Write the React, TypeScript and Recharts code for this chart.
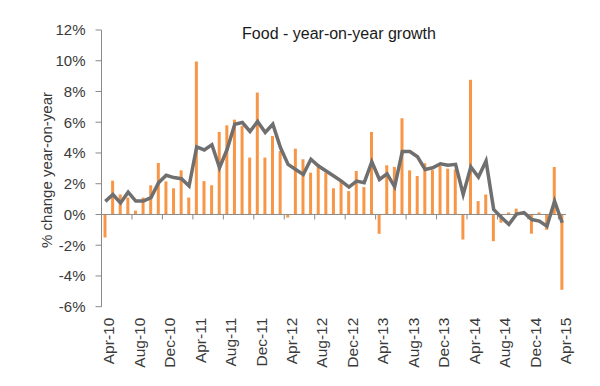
import {
  ComposedChart, Bar, Line, XAxis, YAxis, ReferenceLine, Label,
} from 'recharts';

// monthly categories, Apr-10 .. Apr-15
const months = [
  'Apr-10', 'May-10', 'Jun-10', 'Jul-10', 'Aug-10', 'Sep-10', 'Oct-10', 'Nov-10', 'Dec-10',
  'Jan-11', 'Feb-11', 'Mar-11', 'Apr-11', 'May-11', 'Jun-11', 'Jul-11', 'Aug-11', 'Sep-11',
  'Oct-11', 'Nov-11', 'Dec-11', 'Jan-12', 'Feb-12', 'Mar-12', 'Apr-12', 'May-12', 'Jun-12',
  'Jul-12', 'Aug-12', 'Sep-12', 'Oct-12', 'Nov-12', 'Dec-12', 'Jan-13', 'Feb-13', 'Mar-13',
  'Apr-13', 'May-13', 'Jun-13', 'Jul-13', 'Aug-13', 'Sep-13', 'Oct-13', 'Nov-13', 'Dec-13',
  'Jan-14', 'Feb-14', 'Mar-14', 'Apr-14', 'May-14', 'Jun-14', 'Jul-14', 'Aug-14', 'Sep-14',
  'Oct-14', 'Nov-14', 'Dec-14', 'Jan-15', 'Feb-15', 'Mar-15', 'Apr-15',
];

// orange bars
const monthly = [
  -1.5, 2.2, 1.3, 1.1, 0.25, 1.1, 1.9, 3.35, 2.15,
  1.7, 2.87, 1.1, 9.95, 2.17, 1.9, 5.37, 5.8, 6.17,
  5.76, 3.7, 7.93, 3.7, 5.1, 4.13, -0.2, 4.28, 3.59,
  2.72, 3.26, 2.72, 1.7, 2.17, 1.52, 2.83, 1.78, 5.37,
  -1.26, 3.2, 3.09, 6.26, 2.87, 2.5, 3.33, 2.89, 3.15,
  2.98, 2.93, -1.63, 8.76, 0.87, 1.3, -1.74, -0.54, 0.13,
  0.38, 0.15, -1.25, 0.13, -1.0, 3.09, -4.9,
];

// grey line
const yoy = [
  0.85, 1.3, 0.75, 1.45, 0.87, 0.87, 1.1, 2.07, 2.55,
  2.4, 2.33, 1.85, 4.4, 4.2, 4.54, 3.04, 4.24, 5.87,
  5.98, 5.4, 6.05, 5.33, 5.87, 4.35, 3.26, 2.93, 2.6,
  3.59, 3.15, 2.83, 2.5, 2.17, 1.78, 2.17, 2.07, 3.43,
  2.28, 2.65, 1.8, 4.09, 4.09, 3.75, 2.93, 3.04, 3.3,
  3.2, 3.26, 1.3, 3.09, 2.43, 3.48, 0.33, -0.18, -0.65,
  0.02, 0.12, -0.33, -0.43, -0.76, 0.87, -0.54,
];

const yTicks = [-6, -4, -2, 0, 2, 4, 6, 8, 10, 12];
// small marks on the zero line, left of each labelled month
const markMonths = [
  'Aug-10', 'Dec-10', 'Apr-11', 'Aug-11', 'Dec-11', 'Apr-12', 'Aug-12', 'Dec-12',
  'Apr-13', 'Aug-13', 'Dec-13', 'Apr-14', 'Aug-14', 'Dec-14', 'Apr-15',
];

const data = months.map((m, i) => ({ month: m, monthly: monthly[i], yoy: yoy[i] }));

const W = 600;
const H = 386;
const M = { top: 30, right: 34, bottom: 0, left: 0 };
const X_H = 79.3;
const Y_W = 101.5;
const BAND = (W - M.right - Y_W) / months.length;
const AXIS = '#898989';
const FONT = '"Liberation Sans", Arial, sans-serif';

function MonthTick({ x, y, payload }: any) {
  const tx = x + 3.5;
  const ty = y + 11;
  return (
    <text
      x={tx} y={ty} dy="0.35em" textAnchor="end"
      transform={`rotate(-90 ${tx} ${ty})`}
      fill="#3a3a3a" fontSize={15.5} fontFamily={FONT}
    >
      {payload.value}
    </text>
  );
}

function ZeroMark(props: any) {
  const x = props.x1 - BAND / 2;
  return <line x1={x} y1={props.y1} x2={x} y2={props.y1 + 5} stroke={AXIS} strokeWidth={1} />;
}

export default function App() {
  return (
    <div style={{ position: 'absolute', left: 0, top: 0, width: W, height: H, background: '#fff' }}>
      <div style={{
        position: 'absolute', left: 219, top: 25, width: 240, textAlign: 'center',
        fontFamily: FONT, fontSize: 16, lineHeight: '18px', color: '#1a1a1a',
      }}>
        Food  - year-on-year growth
      </div>
      <ComposedChart width={W} height={H} data={data} margin={M} barCategoryGap={0}>
        <XAxis
          dataKey="month"
          interval={3}
          axisLine={false}
          tickLine={false}
          tickSize={0}
          tickMargin={0}
          height={X_H}
          tick={<MonthTick />}
        />
        <YAxis
          width={Y_W}
          domain={[-6, 12]}
          ticks={yTicks}
          interval={0}
          tickFormatter={(v: number) => `${v}%`}
          axisLine={{ stroke: AXIS }}
          tickLine={{ stroke: AXIS }}
          tickSize={6}
          tickMargin={10}
          tick={{ fill: '#3a3a3a', fontSize: 15, fontFamily: FONT }}
        >
          <Label
            content={() => (
              <text
                x={47} y={170} dy="0.35em" textAnchor="middle"
                transform="rotate(-90 47 170)"
                fill="#3a3a3a" fontSize={15} fontFamily={FONT}
              >
                % change year-on-year
              </text>
            )}
          />
        </YAxis>
        <Bar dataKey="monthly" fill="#F79646" barSize={3} isAnimationActive={false} />
        <ReferenceLine y={0} stroke={AXIS} strokeWidth={1} />
        {markMonths.map(m => (
          <ReferenceLine
            key={m}
            segment={[{ x: m, y: 0 }, { x: m, y: 0 }]}
            shape={ZeroMark}
          />
        ))}
        <Line
          type="linear"
          dataKey="yoy"
          stroke="#6f6f6f"
          strokeWidth={3.5}
          dot={false}
          activeDot={false}
          isAnimationActive={false}
        />
      </ComposedChart>
    </div>
  );
}
